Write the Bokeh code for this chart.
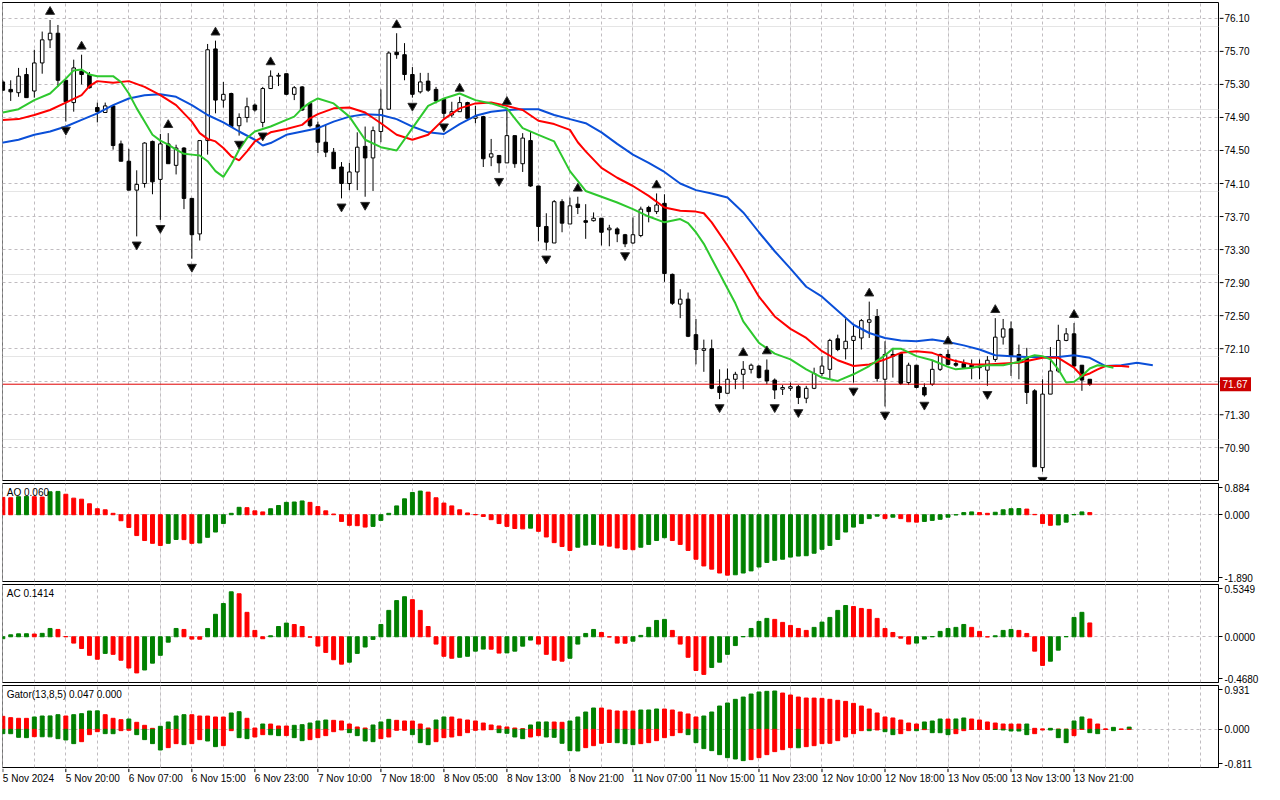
from bokeh.plotting import figure
from bokeh.layouts import column, row
from bokeh.models import (Range1d, FixedTicker, Grid, Label, Span, ColumnDataSource,
                          CustomJSTickFormatter)
from bokeh.embed import file_html
from bokeh.resources import INLINE
from bokeh.core.properties import value

# ---------------- data ----------------
opens = [75.33, 75.24, 75.20, 75.42, 75.22, 75.56, 75.84, 75.92, 75.35, 75.08,
         75.46, 75.42, 75.02, 74.96, 75.04, 74.58, 74.37, 74.02, 74.10, 74.61,
         74.15, 74.58, 74.32, 74.53, 73.92, 73.49, 74.62, 75.73, 75.11, 75.19,
         74.80, 74.90, 75.05, 74.84, 75.25, 75.40, 75.43, 75.18, 75.27, 75.07,
         74.81, 74.60, 74.48, 74.30, 74.10, 74.24, 74.55, 74.41, 74.73, 75.00,
         75.69, 75.66, 75.42, 75.21, 75.34, 75.24, 75.12, 74.93, 74.97, 75.08,
         74.89, 74.91, 74.42, 74.44, 74.35, 74.68, 74.34, 74.62, 74.07, 73.58,
         73.38, 73.88, 73.61, 73.85, 73.65, 73.65, 73.68, 73.54, 73.55, 73.48,
         73.38, 73.47, 73.81, 73.76, 73.86, 73.00, 72.64, 72.70, 72.27, 72.08,
         72.10, 71.64, 71.56, 71.73, 71.79, 71.85, 71.89, 71.84, 71.72, 71.61,
         71.62, 71.64, 71.50, 71.62, 71.80, 71.85, 72.22, 72.10, 72.20, 72.23,
         72.42, 72.49, 71.73, 72.03, 72.04, 71.69, 71.90, 71.63, 71.67, 71.85,
         72.03, 71.92, 71.92, 71.90, 71.89, 71.84, 71.97, 72.24, 72.34, 72.03,
         71.99, 71.59, 70.66, 71.55, 71.83, 72.20, 72.28, 71.90, 71.73]
highs = [75.35, 75.35, 75.50, 75.50, 75.72, 75.94, 76.08, 76.02, 75.35, 75.60,
         75.66, 75.45, 75.08, 75.08, 75.05, 74.62, 74.52, 74.26, 74.60, 74.62,
         74.70, 74.71, 74.57, 74.54, 73.92, 74.62, 75.79, 75.83, 75.33, 75.20,
         74.95, 75.14, 75.07, 75.27, 75.47, 75.44, 75.43, 75.28, 75.28, 75.08,
         74.85, 74.81, 74.53, 74.36, 74.35, 74.72, 74.79, 74.79, 75.24, 75.70,
         75.92, 75.80, 75.51, 75.44, 75.44, 75.27, 75.13, 75.09, 75.15, 75.09,
         75.04, 74.92, 74.64, 74.44, 74.99, 74.68, 74.71, 74.73, 74.07, 73.74,
         73.90, 73.91, 73.93, 73.94, 73.85, 73.75, 73.68, 73.60, 73.57, 73.49,
         73.69, 73.82, 73.83, 73.98, 73.97, 73.01, 72.82, 72.78, 72.46, 72.21,
         72.21, 71.85, 71.86, 71.82, 71.95, 71.92, 71.90, 71.97, 71.74, 71.66,
         71.69, 71.66, 71.65, 71.87, 72.01, 72.22, 72.27, 72.46, 72.38, 72.46,
         72.67, 72.58, 72.19, 72.11, 72.05, 71.93, 71.90, 71.68, 71.96, 72.04,
         72.09, 71.97, 71.97, 71.97, 71.97, 72.01, 72.47, 72.46, 72.43, 72.15,
         72.11, 71.61, 71.73, 72.12, 72.39, 72.35, 72.41, 71.90, 71.73]
lows = [75.22, 75.10, 75.15, 75.14, 75.14, 75.43, 75.74, 75.27, 74.85, 74.97,
        75.30, 75.25, 74.84, 74.96, 74.51, 74.37, 74.02, 73.46, 74.05, 73.97,
        73.66, 74.34, 74.21, 73.79, 73.19, 73.41, 74.45, 74.95, 75.02, 74.79,
        74.68, 74.84, 74.97, 74.78, 75.25, 75.28, 75.17, 75.11, 74.98, 74.78,
        74.47, 74.42, 74.28, 73.92, 74.02, 74.02, 73.94, 74.01, 74.60, 75.00,
        75.61, 75.35, 75.14, 75.19, 75.21, 75.07, 74.89, 74.90, 74.97, 74.89,
        74.83, 74.30, 74.31, 74.23, 74.35, 74.29, 74.24, 74.06, 73.40, 73.29,
        73.38, 73.51, 73.61, 73.73, 73.43, 73.64, 73.35, 73.34, 73.39, 73.33,
        73.37, 73.45, 73.63, 73.73, 72.91, 72.63, 72.47, 72.24, 71.91, 71.82,
        71.61, 71.49, 71.56, 71.61, 71.61, 71.80, 71.74, 71.67, 71.49, 71.54,
        71.59, 71.43, 71.44, 71.61, 71.77, 71.73, 72.07, 71.97, 71.69, 72.09,
        72.23, 71.70, 71.40, 71.75, 71.66, 71.66, 71.62, 71.52, 71.65, 71.83,
        71.90, 71.88, 71.86, 71.73, 71.73, 71.65, 71.94, 72.15, 71.77, 71.73,
        71.43, 70.67, 70.61, 71.55, 71.81, 72.19, 71.88, 71.59, 71.65]
closes = [75.23, 75.21, 75.40, 75.14, 75.56, 75.84, 75.92, 75.35, 75.09, 75.50,
          75.42, 75.26, 74.97, 75.04, 74.56, 74.37, 74.02, 74.09, 74.59, 74.12,
          74.58, 74.34, 74.53, 73.92, 73.48, 74.62, 75.72, 75.11, 75.18, 74.79,
          74.90, 75.03, 74.99, 75.25, 75.40, 75.41, 75.18, 75.26, 74.99, 74.80,
          74.60, 74.48, 74.28, 74.10, 74.24, 74.54, 74.41, 74.74, 75.00, 75.68,
          75.66, 75.42, 75.18, 75.33, 75.23, 75.10, 74.95, 74.97, 75.08, 74.89,
          74.91, 74.40, 74.46, 74.35, 74.68, 74.34, 74.65, 74.07, 73.58, 73.39,
          73.88, 73.62, 73.83, 73.81, 73.63, 73.68, 73.51, 73.56, 73.49, 73.37,
          73.48, 73.79, 73.76, 73.84, 73.01, 72.65, 72.70, 72.25, 72.09, 72.10,
          71.62, 71.57, 71.73, 71.79, 71.85, 71.90, 71.75, 71.71, 71.60, 71.63,
          71.64, 71.51, 71.62, 71.80, 71.89, 72.20, 72.09, 72.19, 72.25, 72.44,
          72.45, 71.74, 72.03, 72.01, 71.68, 71.90, 71.63, 71.54, 71.85, 72.03,
          71.91, 71.90, 71.87, 71.87, 71.87, 71.96, 72.24, 72.34, 72.01, 71.95,
          71.57, 70.67, 71.55, 71.83, 72.20, 72.28, 71.89, 71.72, 71.67]

# Alligator lines (bar index, price)
jaw_x = [-0.3, 2, 4, 6, 8, 10, 12, 14, 16, 18, 20, 22, 24, 26, 28, 30, 32, 33, 34, 36, 38,
         40, 42, 44, 46, 48, 50, 52, 54, 56, 58, 60, 62, 64, 66, 68, 70, 72, 74, 76, 78,
         80, 82, 84, 86, 88, 90, 92, 94, 96, 98, 100, 102, 104, 106, 108, 110, 112, 114,
         116, 118, 120, 122, 124, 126, 128, 130, 132, 134, 136, 138, 140, 142, 144, 146]
jaw_y = [74.59, 74.63, 74.69, 74.73, 74.79, 74.87, 74.95, 75.05, 75.13, 75.17, 75.18, 75.15,
         75.05, 74.93, 74.84, 74.73, 74.63, 74.56, 74.59, 74.69, 74.73,
         74.77, 74.85, 74.91, 74.94, 74.93, 74.88, 74.79, 74.72, 74.70, 74.82, 74.92, 74.97,
         74.99, 75.00, 75.00, 74.93, 74.88, 74.83, 74.72, 74.58,
         74.45, 74.35, 74.24, 74.10, 74.02, 73.98, 73.93, 73.75, 73.51, 73.28, 73.07, 72.85,
         72.73, 72.56, 72.39, 72.29, 72.23, 72.20,
         72.19, 72.21, 72.18, 72.14, 72.09, 72.02, 72.01, 72.00, 72.00, 72.00, 72.02, 71.99,
         71.89, 71.90, 71.93, 71.90]
teeth_x = [0, 2, 4, 6, 8, 10, 11, 12, 14, 16, 18, 20, 22, 24, 25, 26, 27, 28, 29, 30, 31, 32,
           34, 36, 38, 39, 40, 42, 44, 46, 48, 50, 52, 54, 56, 58, 60, 62, 64, 66, 68, 70, 72,
           73, 74, 76, 78, 80, 82, 84, 86, 88, 89, 90, 92, 94, 96, 98, 100, 102, 104, 106,
           108, 110, 112, 114, 116, 118, 120, 121, 123, 125, 127, 129, 130, 132, 134, 136,
           137, 138, 139, 140, 142, 143]
teeth_y = [74.87, 74.88, 74.93, 74.99, 75.08, 75.17, 75.28, 75.34, 75.32, 75.34, 75.27, 75.17,
           75.05, 74.85, 74.71, 74.64, 74.61, 74.53, 74.43, 74.38, 74.49, 74.61,
           74.72, 74.76, 74.81, 74.89, 74.94, 75.01, 75.02, 74.96, 74.83, 74.69, 74.63, 74.69,
           74.88, 75.01, 75.07, 75.08, 75.04, 74.99, 74.86, 74.82, 74.75,
           74.60, 74.49, 74.29, 74.17, 74.07, 73.95, 73.81, 73.77, 73.76, 73.74, 73.63, 73.35,
           73.05, 72.73, 72.49, 72.34, 72.23, 72.07, 71.96,
           71.89, 71.91, 71.97, 72.05, 72.07, 72.05, 71.98, 71.95, 71.91, 71.91, 71.92, 71.93,
           71.95, 71.99, 71.99, 71.87, 71.77, 71.80, 71.85, 71.89, 71.89, 71.88]
lips_x = [0, 2, 4, 6, 8, 9, 10, 11, 12, 14, 15, 16, 17, 18, 19, 20, 21, 22, 23, 24, 25, 26,
          27, 28, 29, 30, 31, 32, 34, 36, 37, 38, 39, 40, 42, 44, 46, 48, 50, 52, 54, 56, 58,
          60, 62, 64, 65, 66, 68, 70, 72, 74, 76, 78, 80, 82, 84, 86, 87, 88, 89, 90, 91, 92,
          93, 94, 96, 98, 100, 102, 104, 106, 108, 110, 112, 113, 114, 116, 118, 120, 121,
          123, 125, 127, 129, 130, 131, 132, 133, 134, 135, 136, 137, 138, 139, 140, 141]
lips_y = [74.96, 75.00, 75.11, 75.19, 75.37, 75.47, 75.48, 75.42, 75.40, 75.40, 75.33, 75.19,
          75.01, 74.85, 74.69, 74.62, 74.57, 74.51, 74.46, 74.45, 74.44, 74.37,
          74.25, 74.18, 74.33, 74.51, 74.65, 74.73, 74.79, 74.87, 74.91, 75.01, 75.08, 75.13,
          75.07, 74.91, 74.63, 74.54, 74.50, 74.77, 75.04, 75.13, 75.19,
          75.11, 75.07, 75.01, 74.89, 74.77, 74.69, 74.61, 74.25, 74.01, 73.94, 73.87, 73.79,
          73.70, 73.63, 73.67, 73.62, 73.51, 73.37, 73.19, 73.01, 72.83,
          72.65, 72.43, 72.17, 72.04, 71.97, 71.85, 71.75, 71.71, 71.79, 71.89, 72.02, 72.10,
          72.10, 72.01, 71.96, 71.88, 71.85,
          71.87, 71.90, 71.90, 71.94, 71.99, 72.02, 72.01, 71.97, 71.85, 71.69, 71.70, 71.77,
          71.86, 71.90, 71.89, 71.87]

fractal_up = [6, 10, 21, 27, 34, 50, 58, 64, 73, 83, 94, 97, 110, 120, 126, 136]
fractal_down = [8, 17, 20, 24, 30, 33, 43, 46, 52, 56, 63, 69, 79, 91, 98, 101, 108, 112,
                117, 125, 132]

ao = [0.49, 0.48, 0.51, 0.52, 0.51, 0.50, 0.65, 0.66, 0.58, 0.47,
      0.44, 0.31, 0.17, 0.14, 0.04, -0.17, -0.36, -0.59, -0.73, -0.81,
      -0.87, -0.81, -0.70, -0.705, -0.81, -0.80, -0.64, -0.49, -0.25, 0.04,
      0.21, 0.20, 0.11, 0.08, 0.17, 0.26, 0.35, 0.36, 0.39, 0.35,
      0.23, 0.11, 0.02, -0.19, -0.30, -0.31, -0.35, -0.33, -0.16, 0.04,
      0.25, 0.45, 0.63, 0.67, 0.64, 0.48, 0.33, 0.25, 0.14, 0.05,
      0.005, -0.05, -0.14, -0.25, -0.33, -0.39, -0.40, -0.38, -0.47, -0.63,
      -0.79, -0.90, -1.01, -0.92, -0.86, -0.84, -0.86, -0.89, -0.94, -0.98,
      -0.99, -0.92, -0.84, -0.73, -0.65, -0.73, -0.84, -1.01, -1.26, -1.45,
      -1.54, -1.65, -1.71, -1.70, -1.65, -1.59, -1.48, -1.35, -1.29, -1.26,
      -1.20, -1.17, -1.16, -1.09, -0.98, -0.87, -0.70, -0.49, -0.35, -0.25,
      -0.11, -0.04, -0.11, -0.07, -0.11, -0.20, -0.21, -0.19, -0.16, -0.13,
      -0.07, -0.005, 0.06, 0.08, 0.06, 0.04, 0.07, 0.14, 0.17, 0.175,
      0.16, 0.01, -0.25, -0.30, -0.29, -0.21, 0.005, 0.08, 0.06]
ac = [-0.02, 0.02, 0.03, 0.031, 0.028, 0.035, 0.085, 0.075, 0.002, -0.065,
      -0.12, -0.19, -0.23, -0.17, -0.18, -0.24, -0.32, -0.37, -0.34, -0.27,
      -0.19, -0.055, 0.085, 0.075, -0.024, -0.025, 0.085, 0.23, 0.34, 0.46,
      0.44, 0.25, 0.065, -0.02, 0.01, 0.105, 0.14, 0.125, 0.105, -0.005,
      -0.095, -0.16, -0.235, -0.28, -0.26, -0.17, -0.105, -0.027, 0.126, 0.27,
      0.37, 0.41, 0.38, 0.27, 0.105, -0.075, -0.20, -0.22, -0.21, -0.20,
      -0.147, -0.126, -0.127, -0.167, -0.165, -0.147, -0.096, -0.034, -0.075, -0.18,
      -0.24, -0.25, -0.22, -0.075, 0.034, 0.075, 0.044, -0.003, -0.065, -0.066,
      -0.045, 0.014, 0.096, 0.167, 0.178, 0.065, -0.075, -0.21, -0.345, -0.385,
      -0.314, -0.26, -0.18, -0.09, 0.002, 0.085, 0.157, 0.188, 0.178, 0.147,
      0.116, 0.085, 0.065, 0.096, 0.15, 0.198, 0.27, 0.32, 0.31, 0.29,
      0.28, 0.188, 0.085, 0.044, -0.014, -0.075, -0.065, -0.024, 0.002, 0.055,
      0.085, 0.096, 0.126, 0.096, 0.055, -0.002, 0.01, 0.065, 0.075, 0.065,
      0.034, -0.147, -0.293, -0.25, -0.137, 0.002, 0.198, 0.25, 0.1414]
gator_up = [0.276, 0.248, 0.234, 0.233, 0.262, 0.283, 0.285, 0.311, 0.283, 0.311,
            0.333, 0.389, 0.392, 0.311, 0.234, 0.205, 0.219, 0.149, 0.085, 0.021,
            0.064, 0.156, 0.283, 0.311, 0.310, 0.283, 0.282, 0.262, 0.261, 0.347,
            0.375, 0.234, 0.028, 0.113, 0.112, 0.071, 0.070, 0.085, 0.099, 0.134,
            0.177, 0.198, 0.191, 0.177, 0.113, 0.050, 0.028, 0.092, 0.156, 0.212,
            0.191, 0.177, 0.176, 0.113, 0.028, 0.198, 0.262, 0.261, 0.219, 0.198,
            0.177, 0.134, 0.092, 0.071, 0.050, 0.028, 0.014, 0.092, 0.156, 0.157,
            0.155, 0.149, 0.177, 0.262, 0.368, 0.453, 0.452, 0.410, 0.389, 0.388,
            0.387, 0.410, 0.411, 0.432, 0.431, 0.410, 0.368, 0.326, 0.262, 0.283,
            0.368, 0.495, 0.559, 0.637, 0.686, 0.750, 0.793, 0.807, 0.814, 0.771,
            0.729, 0.686, 0.665, 0.664, 0.658, 0.637, 0.616, 0.594, 0.552, 0.495,
            0.432, 0.347, 0.262, 0.241, 0.198, 0.134, 0.113, 0.156, 0.177, 0.219,
            0.218, 0.220, 0.241, 0.219, 0.198, 0.156, 0.134, 0.113, 0.112, 0.111,
            0.113, 0.021, 0.007, 0.021, 0.002, 0.001, 0.177, 0.262, 0.219, 0.113,
            0.007, 0.042, 0.003, 0.047]
gator_dn = [-0.092, -0.093, -0.170, -0.177, -0.156, -0.158, -0.160, -0.198, -0.226, -0.304,
            -0.262, -0.113, -0.050, -0.092, -0.093, -0.028, -0.020, -0.113, -0.219, -0.304,
            -0.439, -0.389, -0.304, -0.326, -0.304, -0.219, -0.248, -0.368, -0.347, -0.028,
            -0.177, -0.198, -0.163, -0.113, -0.115, -0.134, -0.133, -0.177, -0.241, -0.219,
            -0.177, -0.134, -0.050, -0.014, -0.071, -0.134, -0.248, -0.262, -0.198, -0.163,
            -0.021, -0.020, -0.113, -0.283, -0.326, -0.262, -0.177, -0.163, -0.134, -0.071,
            -0.021, -0.014, -0.007, -0.071, -0.085, -0.163, -0.198, -0.163, -0.134, -0.163,
            -0.170, -0.297, -0.453, -0.460, -0.389, -0.347, -0.297, -0.280, -0.284, -0.304,
            -0.326, -0.304, -0.283, -0.241, -0.177, -0.134, -0.071, -0.113, -0.283, -0.410,
            -0.453, -0.538, -0.602, -0.630, -0.665, -0.644, -0.602, -0.538, -0.474, -0.432,
            -0.389, -0.392, -0.368, -0.347, -0.304, -0.297, -0.241, -0.163, -0.092, -0.028,
            -0.029, -0.014, -0.050, -0.113, -0.092, -0.028, -0.029, -0.007, -0.071, -0.072,
            -0.113, -0.092, -0.028, -0.002, -0.001, -0.001, -0.004, -0.014, -0.035, -0.036,
            -0.113, -0.092, -0.014, -0.015, -0.177, -0.283, -0.134, -0.002, -0.071, -0.092,
            -0.001, -0.028, -0.001, 0.000]

price_ticks = [76.10, 75.70, 75.30, 74.90, 74.50, 74.10, 73.70, 73.30, 72.90, 72.50,
               72.10, 71.70, 71.30, 70.90]
last_price = 71.67
ao_range = (-1.890, 0.884)
ac_range = (-0.4680, 0.5349)
gator_range = (-0.811, 0.931)
ao_labels = ["0.884", "0.000", "-1.890"]
ac_labels = ["0.5349", "0.0000", "-0.4680"]
gator_labels = ["0.931", "0.000", "-0.811"]
ao_title = "AO 0.060"
ac_title = "AC 0.1414"
gator_title = "Gator(13,8,5) 0.047 0.000"
date_idx = [0, 8, 16, 24, 32, 40, 48, 56, 64, 72, 80, 88, 96, 104, 112, 120, 128, 136]
date_labels = ["5 Nov 2024", "5 Nov 20:00", "6 Nov 07:00", "6 Nov 15:00", "6 Nov 23:00",
               "7 Nov 10:00", "7 Nov 18:00", "8 Nov 05:00", "8 Nov 13:00", "8 Nov 21:00",
               "11 Nov 07:00", "11 Nov 15:00", "11 Nov 23:00", "12 Nov 10:00",
               "12 Nov 18:00", "13 Nov 05:00", "13 Nov 13:00", "13 Nov 21:00"]

# ---------------- styling ----------------
FONT = "Liberation Sans"
FS = "10px"
GREEN = "#008000"
RED = "#ff0000"
GRIDC = "#c0bcc0"
FW = 1216
MAIN_H = 478
AXW = 44
VGRID = list(range(0, 156, 4))
xr = Range1d(-0.04, 154.34)


def base_fig(fh, lo, hi, with_axis=True, top=2, bottom=1, right=2):
    p = figure(frame_width=FW, frame_height=fh, x_range=xr, y_range=Range1d(lo, hi),
               x_axis_location=None, y_axis_location=("right" if with_axis else None),
               output_backend="svg", toolbar_location=None,
               min_border_left=2, min_border_right=right,
               min_border_top=top, min_border_bottom=bottom)
    p.outline_line_color = "black"
    p.outline_line_width = 1
    p.outline_line_alpha = 1.0
    p.border_fill_color = "white"
    p.background_fill_color = "white"
    if with_axis:
        ax = p.yaxis[0]
        ax.axis_line_color = "black"
        ax.major_tick_in = 0
        ax.major_tick_out = 4
        ax.minor_tick_in = 0
        ax.minor_tick_out = 0
        ax.major_tick_line_color = "black"
        ax.major_label_standoff = 2
        ax.major_label_text_font = FONT
        ax.major_label_text_font_size = FS
        ax.major_label_text_color = "black"
    p.add_layout(Grid(dimension=0, ticker=FixedTicker(ticks=VGRID),
                      grid_line_color=GRIDC, grid_line_dash="3 3", grid_line_width=1))
    return p


def sub_fig(fh, rng, labels, title, top=2, bottom=1):
    lo, hi = rng
    p = base_fig(fh, lo, hi, True, top, bottom)
    pad = (hi - lo) * 4.0 / fh
    ax = p.yaxis[0]
    ax.ticker = FixedTicker(ticks=[hi - pad, 0.0, lo + pad])
    ax.formatter = CustomJSTickFormatter(args=dict(labels=labels), code="return labels[index];")
    for g in p.ygrid:
        g.ticker = FixedTicker(ticks=[0.0])
        g.grid_line_color = GRIDC
        g.grid_line_dash = "3 3"
    p.add_layout(Label(x=0.5, y=hi - (hi - lo) * 3.5 / fh, text=title, text_baseline="top",
                       text_align="left", text_font=FONT, text_font_size=FS, text_color="black"))
    return p


def rising_colors(vals, first):
    cols = [first]
    for a, b in zip(vals[:-1], vals[1:]):
        cols.append(GREEN if b > a else RED)
    return cols


# ---------------- main price panel ----------------
n = len(opens)
idx = list(range(n))
plo, phi = 70.504, 76.292
pm = base_fig(MAIN_H, plo, phi, with_axis=False, top=2, bottom=1, right=1)
pm.add_layout(Grid(dimension=1, ticker=FixedTicker(ticks=price_ticks),
                   grid_line_color=GRIDC, grid_line_dash="3 3", grid_line_width=1))

body_top = [max(o, c) for o, c in zip(opens, closes)]
body_bot = [min(o, c) for o, c in zip(opens, closes)]
fills = ["white" if c > o else "black" for o, c in zip(opens, closes)]
csrc = ColumnDataSource(dict(x=idx, h=highs, l=lows, t=body_top, b=body_bot, f=fills))

pm.add_layout(Span(location=last_price, dimension="width", line_color="#e00000", line_width=1))
pm.segment(x0="x", y0="l", x1="x", y1="h", source=csrc, line_color="black", line_width=1)
pm.vbar(x="x", width=0.45, top="t", bottom="b", source=csrc, fill_color="f",
        line_color="black", line_width=1)

pm.line(jaw_x, jaw_y, line_color="#0a4fd8", line_width=2)
pm.line(teeth_x, teeth_y, line_color="#ff0000", line_width=2)
pm.line(lips_x, lips_y, line_color="#2ec82e", line_width=2)

off = 0.1
pm.scatter(fractal_up, [highs[i] + off for i in fractal_up], marker="triangle",
           size=9, fill_color="black", line_color="#303030", line_width=1)
pm.scatter(fractal_down, [lows[i] - off for i in fractal_down],
           marker="inverted_triangle", size=9, fill_color="black", line_color="#303030",
           line_width=1)

# price axis drawn as its own strip so the current-price box can sit in it
pax = figure(frame_width=AXW, frame_height=MAIN_H, x_range=Range1d(0, AXW), y_range=pm.y_range,
             x_axis_location=None, y_axis_location=None, output_backend="svg",
             toolbar_location=None, min_border_left=0, min_border_right=0,
             min_border_top=2, min_border_bottom=1)
pax.outline_line_color = None
pax.border_fill_color = "white"
pax.background_fill_color = "white"
pax.grid.visible = False
pax.segment(x0=[0] * len(price_ticks), y0=price_ticks, x1=[4] * len(price_ticks),
            y1=price_ticks, line_color="black", line_width=1)
pax.text(x=[5] * len(price_ticks), y=price_ticks, text=["%.2f" % t for t in price_ticks],
         text_align="left", text_baseline="middle", text_font=value(FONT),
         text_font_size=value(FS), text_color="black")
pax.rect(x=[16], y=[last_price], width=31, height=14, height_units="screen",
         fill_color="#cc0000", line_color=None)
pax.text(x=[3], y=[last_price], text=["%.2f" % last_price], text_align="left",
         text_baseline="middle", text_font=value(FONT), text_font_size=value(FS),
         text_color="white")

# ---------------- AO ----------------
pao = sub_fig(98, ao_range, ao_labels, ao_title)
pao.vbar(x=list(range(len(ao))), width=0.5, top=ao, bottom=0,
         color=rising_colors(ao, RED))

# ---------------- AC ----------------
pac = sub_fig(98, ac_range, ac_labels, ac_title)
pac.vbar(x=list(range(len(ac))), width=0.5, top=ac, bottom=0,
         color=rising_colors(ac, GREEN))

# ---------------- Gator ----------------
pg = sub_fig(82, gator_range, gator_labels, gator_title)
gx = list(range(len(gator_up)))
pg.vbar(x=gx, width=0.5, top=gator_up, bottom=0, color=rising_colors(gator_up, RED))
dn_abs = [abs(v) for v in gator_dn]
pg.vbar(x=gx, width=0.5, top=0, bottom=gator_dn, color=rising_colors(dn_abs, GREEN))

# ---------------- date strip ----------------
pl = figure(frame_width=FW, frame_height=18, x_range=xr, y_range=Range1d(0, 1),
            x_axis_location=None, y_axis_location=None, output_backend="svg",
            toolbar_location=None, min_border_left=2, min_border_right=2,
            min_border_top=0, min_border_bottom=0)
pl.outline_line_color = None
pl.border_fill_color = "white"
pl.background_fill_color = "white"
pl.grid.visible = False
pl.segment(x0=date_idx, y0=[1.0] * len(date_idx), x1=date_idx, y1=[0.8] * len(date_idx),
           line_color="black", line_width=1)
pl.text(x=date_idx, y=[0.45] * len(date_idx), text=date_labels, text_align="left",
        text_baseline="middle", x_offset=0, text_font=value(FONT),
        text_font_size=value("10px"), text_color="black")

layout = column(row(pm, pax, spacing=0), pao, pac, pg, pl, spacing=0)
open("out.html", "w").write(file_html(layout, INLINE))
